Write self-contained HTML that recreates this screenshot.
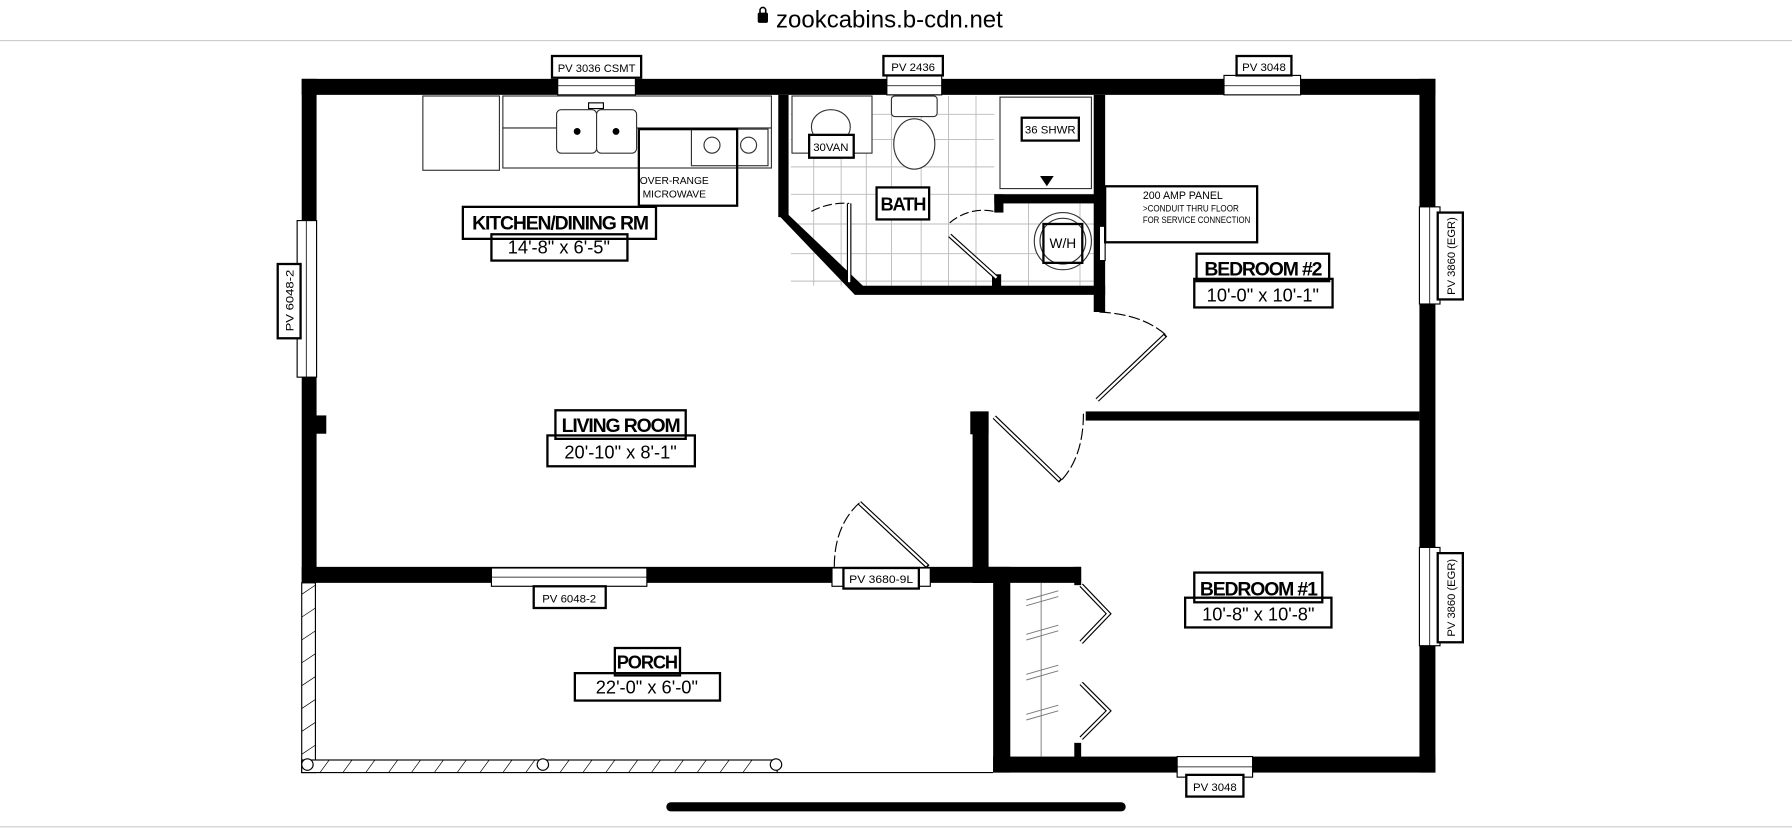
<!DOCTYPE html>
<html><head><meta charset="utf-8"><style>
html,body{margin:0;padding:0;background:#fff;width:1792px;height:828px;overflow:hidden}
svg{display:block}
text{font-family:"Liberation Sans",sans-serif;fill:#000}
</style></head><body>
<svg width="1792" height="828" viewBox="0 0 1568 724.5" xmlns="http://www.w3.org/2000/svg">
<rect x="663" y="11" width="9" height="9" rx="1.5" fill="#000"/>
<path d="M665 12 v-3 a2.5 2.5 0 0 1 5 0 v3" fill="none" stroke="#000" stroke-width="1.4"/>
<text x="679" y="24" font-size="21">zookcabins.b-cdn.net</text>
<line x1="0" y1="35.5" x2="1568" y2="35.5" stroke="#ccc" stroke-width="1"/>

<g stroke="#bbb" stroke-width="0.8" fill="none">
<path d="M692 100 H870 M692 122 H870 M692 146 H870 M692 170 H960 M692 196 H960 M692 222 H960 M692 246 H960"/>
<path d="M712 84 V250 M736 84 V250 M758 84 V250 M780 84 V250 M806 84 V250 M830 84 V250 M854 84 V250 M900 170 V250 M945 170 V250"/>
</g>
<g fill="#fff" stroke="#333" stroke-width="1">
<rect x="440" y="84" width="235" height="28"/>
<rect x="440" y="112" width="235" height="35"/>
<rect x="370" y="84" width="67" height="65"/>
<rect x="487" y="96" width="35" height="38" rx="4"/>
<rect x="522" y="96" width="35" height="38" rx="4"/>
<rect x="605" y="113" width="67" height="32"/>
<circle cx="623" cy="127" r="7"/><circle cx="655" cy="127" r="7"/>
<rect x="693" y="84" width="70" height="50"/>
<ellipse cx="727" cy="111" rx="17" ry="15"/>
<rect x="780" y="84" width="40" height="18" rx="3"/>
<ellipse cx="800" cy="126" rx="18" ry="22"/>
<rect x="875" y="85" width="80" height="80"/>
<circle cx="930" cy="211" r="25"/>
<circle cx="930" cy="211" r="20"/>
</g>
<circle cx="505" cy="115" r="3" fill="#000"/><circle cx="539" cy="115" r="3" fill="#000"/>
<rect x="515" y="90" width="13" height="5" fill="#fff" stroke="#000"/>
<path d="M910 154 h12 l-6 9z" fill="#000"/>

<g fill="#000">
<rect x="264" y="69" width="992" height="14"/>
<rect x="264" y="69" width="13" height="441"/>
<rect x="1242" y="69" width="14" height="607"/>
<rect x="264" y="496" width="605" height="14"/>
<rect x="869" y="662" width="387" height="14"/>
<rect x="869" y="496" width="15" height="180"/>
<rect x="851" y="360" width="14" height="150"/>
<rect x="851" y="496" width="95" height="14"/>
<rect x="940" y="496" width="6" height="16"/>
<rect x="940" y="650" width="6" height="14"/>
<rect x="950" y="360" width="292" height="8"/>
<rect x="957" y="83" width="10" height="190"/>
<rect x="681" y="83" width="9" height="107"/>
<polygon points="681,188 690,188 755,250 748,258"/>
<rect x="748" y="250" width="219" height="8"/>
<rect x="870" y="170" width="90" height="8"/>
<rect x="870" y="170" width="8" height="16"/>
<rect x="868" y="240" width="8" height="12"/>
<rect x="849" y="360" width="16" height="20"/>
</g>
<rect x="264" y="510" width="12" height="166" fill="#fff" stroke="#000"/>
<rect x="264" y="665" width="416" height="11" fill="#fff" stroke="#000"/>
<g stroke="#000" stroke-width="0.6">
<path d="M264 520 l12 -8 M264 540 l12 -8 M264 560 l12 -8 M264 580 l12 -8 M264 600 l12 -8 M264 620 l12 -8 M264 640 l12 -8 M264 660 l12 -8"/>
<path d="M280 676 l8 -11 M300 676 l8 -11 M320 676 l8 -11 M340 676 l8 -11 M360 676 l8 -11 M380 676 l8 -11 M400 676 l8 -11 M420 676 l8 -11 M440 676 l8 -11 M460 676 l8 -11 M490 676 l8 -11 M510 676 l8 -11 M530 676 l8 -11 M550 676 l8 -11 M570 676 l8 -11 M590 676 l8 -11 M610 676 l8 -11 M630 676 l8 -11 M650 676 l8 -11"/>
</g>
<line x1="680" y1="676" x2="869" y2="676" stroke="#000" stroke-width="1"/>
<g fill="#fff" stroke="#000"><circle cx="269" cy="669" r="5"/><circle cx="475" cy="669" r="5"/><circle cx="679" cy="669" r="5"/></g>

<g fill="#fff" stroke="#000" stroke-width="1">
<rect x="488" y="66" width="68" height="17"/>
<rect x="776" y="66" width="48" height="17"/>
<rect x="1071" y="66" width="67" height="17"/>
<rect x="260" y="193" width="17" height="137"/>
<rect x="1242" y="181" width="18" height="85"/>
<rect x="1242" y="479" width="18" height="86"/>
<rect x="430" y="497" width="136" height="16"/>
<rect x="728" y="497" width="86" height="16"/>
<rect x="1030" y="662" width="66" height="18"/>
<rect x="277" y="364" width="8" height="15" fill="#000"/>
</g>
<g stroke="#000" stroke-width="0.7">
<line x1="488" y1="75" x2="556" y2="75"/><line x1="776" y1="75" x2="824" y2="75"/>
<line x1="1071" y1="75" x2="1138" y2="75"/><line x1="268" y1="193" x2="268" y2="330"/>
<line x1="1251" y1="181" x2="1251" y2="266"/><line x1="1251" y1="479" x2="1251" y2="565"/>
<line x1="430" y1="505" x2="566" y2="505"/><line x1="1030" y1="671" x2="1096" y2="671"/>
</g>

<g fill="none" stroke="#000" stroke-width="1">
<path d="M960 350 L1020 293" stroke-width="4"/><path d="M960 350 L1019 294" stroke="#fff" stroke-width="2"/>
<path d="M962 273 Q1000 275 1020 293" stroke-dasharray="10 3"/>
<path d="M870 365 L928 421" stroke-width="4"/><path d="M870 365 L927 420" stroke="#fff" stroke-width="2"/>
<path d="M948 362 Q948 400 928 421" stroke-dasharray="10 3"/>
<path d="M752 440 L812 496" stroke-width="4"/><path d="M752 440 L811 495" stroke="#fff" stroke-width="2"/>
<path d="M730 496 Q730 460 752 440" stroke-dasharray="10 3"/>
<path d="M743 178 L743 248" stroke-width="4"/><path d="M743 178 L743 247" stroke="#fff" stroke-width="2"/>
<path d="M696 200 L743 248" stroke-width="0.6"/>
<path d="M710 185 A60 60 0 0 1 743 178" stroke-dasharray="8 3"/>
<path d="M831 206 L873 244" stroke-width="4"/><path d="M831 206 L872 243" stroke="#fff" stroke-width="2"/>
<path d="M831 195 A45 45 0 0 1 870 185" stroke-dasharray="8 3"/>
<path d="M946 512 L970 537 L946 562 M946 598 L970 622 L946 646" stroke-width="4"/>
<path d="M946 512 L970 537 L946 562 M946 598 L970 622 L946 646" stroke="#fff" stroke-width="2"/>
</g>
<g stroke="#777" stroke-width="0.8">
<path d="M898 525 l28 -8 M898 530 l28 -8 M898 555 l28 -8 M898 560 l28 -8 M898 590 l28 -8 M898 595 l28 -8 M898 625 l28 -8 M898 630 l28 -8"/>
<line x1="911" y1="510" x2="911" y2="662"/>
</g>
<rect x="962" y="198" width="5" height="30" fill="#fff" stroke="#000"/>
<path d="M967 205 L1000 172 H1045" fill="none" stroke="#000" stroke-width="0.8"/>

<g fill="#fff" stroke="#000" stroke-width="2">
<rect x="483" y="49" width="78" height="19"/>
<rect x="773" y="49" width="52" height="17"/>
<rect x="1082" y="49" width="48" height="17"/>
<rect x="243" y="231" width="20" height="65"/>
<rect x="1258" y="186" width="22" height="76"/>
<rect x="1258" y="484" width="22" height="78"/>
<rect x="467" y="513" width="63" height="19"/>
<rect x="738" y="497" width="66" height="18"/>
<rect x="1038" y="678" width="50" height="19"/>
<rect x="559" y="113" width="86" height="67" fill="none"/>
<rect x="405" y="181" width="169" height="28"/>
<rect x="430" y="205" width="119" height="23" fill="none"/>
<rect x="767" y="164" width="46" height="28"/>
<rect x="708" y="118" width="39" height="20"/>
<rect x="894" y="103" width="50" height="20"/>
<rect x="913" y="196" width="34" height="34" fill="none"/>
<rect x="967" y="163" width="133" height="49"/>
<rect x="1047" y="222" width="116" height="24"/>
<rect x="1045" y="244" width="121" height="25" fill="none"/>
<rect x="486" y="359" width="114" height="25"/>
<rect x="479" y="381" width="129" height="27" fill="none"/>
<rect x="1045" y="501" width="112" height="26"/>
<rect x="1037" y="523" width="128" height="26" fill="none"/>
<rect x="538" y="567" width="57" height="24"/>
<rect x="503" y="589" width="127" height="24" fill="none"/>
</g>
<g>
<text x="488" y="63" font-size="10" textLength="68" lengthAdjust="spacingAndGlyphs">PV 3036 CSMT</text>
<text x="799" y="62" font-size="10" text-anchor="middle">PV 2436</text>
<text x="1106" y="62" font-size="10" text-anchor="middle">PV 3048</text>
<text transform="translate(257,290) rotate(-90)" font-size="10" textLength="54" lengthAdjust="spacingAndGlyphs">PV 6048-2</text>
<text transform="translate(1273,258) rotate(-90)" font-size="10" textLength="68" lengthAdjust="spacingAndGlyphs">PV 3860 (EGR)</text>
<text transform="translate(1273,557) rotate(-90)" font-size="10" textLength="68" lengthAdjust="spacingAndGlyphs">PV 3860 (EGR)</text>
<text x="498" y="527" font-size="10" text-anchor="middle">PV 6048-2</text>
<text x="743" y="510" font-size="10" textLength="56" lengthAdjust="spacingAndGlyphs">PV 3680-9L</text>
<text x="1063" y="692" font-size="10" text-anchor="middle">PV 3048</text>
<text x="590" y="161" font-size="9" text-anchor="middle">OVER-RANGE</text>
<text x="590" y="173" font-size="9" text-anchor="middle">MICROWAVE</text>
<text x="490" y="201" font-size="17" font-weight="bold" text-anchor="middle" letter-spacing="-1">KITCHEN/DINING RM</text>
<text x="489" y="222" font-size="16" text-anchor="middle">14'-8" x 6'-5"</text>
<text x="790" y="184" font-size="16" font-weight="bold" text-anchor="middle" letter-spacing="-1">BATH</text>
<text x="727" y="132" font-size="10" text-anchor="middle">30VAN</text>
<text x="919" y="117" font-size="10" text-anchor="middle">36 SHWR</text>
<text x="930" y="217" font-size="12" text-anchor="middle">W/H</text>
<text x="1000" y="174" font-size="10" textLength="70" lengthAdjust="spacingAndGlyphs">200 AMP PANEL</text>
<text x="1000" y="185" font-size="8" textLength="84" lengthAdjust="spacingAndGlyphs">&gt;CONDUIT THRU FLOOR</text>
<text x="1000" y="195" font-size="8" textLength="94" lengthAdjust="spacingAndGlyphs">FOR SERVICE CONNECTION</text>
<text x="1105" y="241" font-size="17" font-weight="bold" text-anchor="middle" letter-spacing="-1">BEDROOM #2</text>
<text x="1105" y="264" font-size="16" text-anchor="middle">10'-0" x 10'-1"</text>
<text x="543" y="378" font-size="17" font-weight="bold" text-anchor="middle" letter-spacing="-1">LIVING ROOM</text>
<text x="543" y="401" font-size="16" text-anchor="middle">20'-10" x 8'-1"</text>
<text x="1101" y="521" font-size="17" font-weight="bold" text-anchor="middle" letter-spacing="-1">BEDROOM #1</text>
<text x="1101" y="543" font-size="16" text-anchor="middle">10'-8" x 10'-8"</text>
<text x="566" y="585" font-size="16" font-weight="bold" text-anchor="middle" letter-spacing="-1">PORCH</text>
<text x="566" y="607" font-size="16" text-anchor="middle">22'-0" x 6'-0"</text>
</g>
<line x1="587" y1="706" x2="981" y2="706" stroke="#000" stroke-width="8" stroke-linecap="round"/>
<line x1="0" y1="723.5" x2="1568" y2="723.5" stroke="#ccc" stroke-width="1"/>
</svg>
</body></html>
